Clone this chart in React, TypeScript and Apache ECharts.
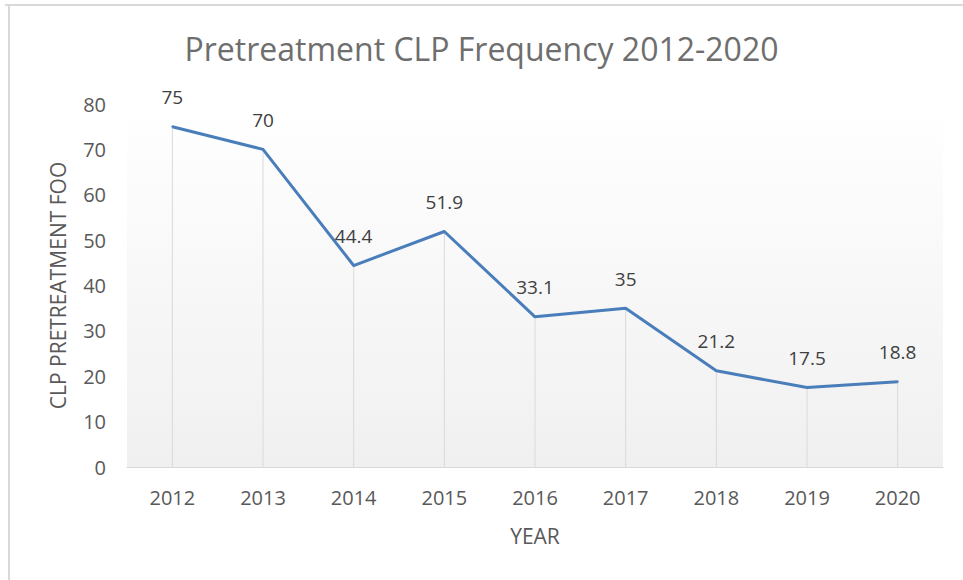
import React, { useEffect, useRef } from "react";
import * as echarts from "echarts";

const categories = ["2012", "2013", "2014", "2015", "2016", "2017", "2018", "2019", "2020"];
const values = [75, 70, 44.4, 51.9, 33.1, 35, 21.2, 17.5, 18.8];
const yTicks = { min: 0, max: 80, interval: 10 };
const titleText = "Pretreatment CLP Frequency 2012-2020";
const yName = "CLP PRETREATMENT FOO";
const xName = "YEAR";

const FONT = "'Open Sans', 'Noto Sans', sans-serif";

export default function App() {
  const ref = useRef<HTMLDivElement>(null);
  useEffect(() => {
    if (!ref.current) return;
    const chart = echarts.init(ref.current, undefined, { renderer: "svg" });
    chart.setOption({
      animation: false,
      backgroundColor: "#ffffff",
      title: {
        text: titleText,
        left: "center",
        top: 27,
        textStyle: { fontFamily: FONT, fontSize: 32, fontWeight: "normal", color: "#6e6e6e" },
      },
      graphic: [
        { type: "line", shape: { x1: 5, y1: 5, x2: 963, y2: 5 }, style: { stroke: "#d9d9d9", lineWidth: 2 } },
        { type: "line", shape: { x1: 9, y1: 5, x2: 9, y2: 580 }, style: { stroke: "#d9d9d9", lineWidth: 2 } },
      ],
      grid: {
        left: 127,
        right: 20,
        top: 104,
        bottom: 113,
        show: true,
        borderWidth: 0,
        backgroundColor: new echarts.graphic.LinearGradient(0, 0, 0, 1, [
          { offset: 0, color: "#ffffff" },
          { offset: 1, color: "#f0f0f0" },
        ]),
      },
      xAxis: {
        type: "category",
        data: categories,
        boundaryGap: true,
        name: xName,
        nameLocation: "middle",
        nameGap: 58,
        nameTextStyle: { fontFamily: FONT, fontSize: 21, color: "#595959" },
        axisLine: { lineStyle: { color: "#d9d9d9", width: 1 } },
        axisTick: { show: false },
        axisLabel: { fontFamily: FONT, fontSize: 20, color: "#595959", margin: 20 },
        splitLine: { show: false },
      },
      yAxis: {
        type: "value",
        min: yTicks.min,
        max: yTicks.max,
        interval: yTicks.interval,
        name: yName,
        nameLocation: "middle",
        nameGap: 59,
        nameTextStyle: { fontFamily: FONT, fontSize: 21, color: "#595959" },
        axisLine: { show: false },
        axisTick: { show: false },
        axisLabel: { fontFamily: FONT, fontSize: 20, color: "#595959", margin: 21 },
        splitLine: { show: false },
      },
      series: [
        {
          type: "bar",
          data: values,
          barWidth: 1,
          silent: true,
          itemStyle: { color: "#d9d9d9" },
          z: 1,
        },
        {
          type: "line",
          data: values,
          symbol: "circle",
          symbolSize: 2,
          showSymbol: true,
          itemStyle: { color: "#4a7ebb" },
          lineStyle: { color: "#4a7ebb", width: 3 },
          z: 3,
          label: {
            show: true,
            position: "top",
            distance: 19,
            fontFamily: FONT,
            fontSize: 19,
            color: "#404040",
          },
        },
      ],
    });
    return () => chart.dispose();
  }, []);
  return <div ref={ref} style={{ position: "absolute", left: 0, top: 0, width: 963, height: 580 }} />;
}
